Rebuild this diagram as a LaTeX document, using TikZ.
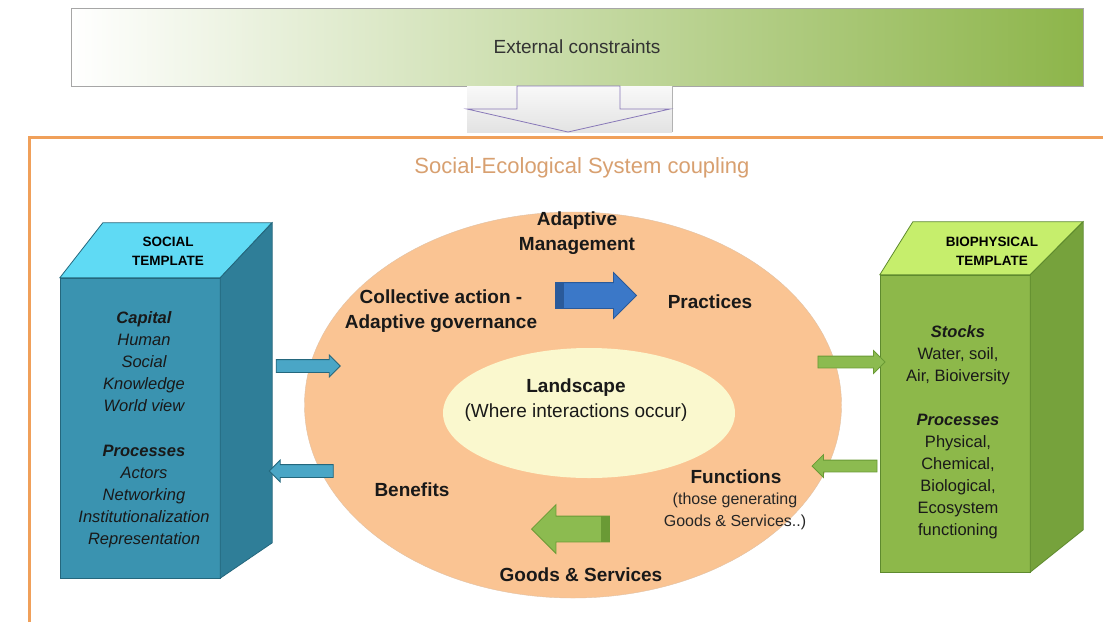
\documentclass[tikz,border=0pt]{standalone}
\usepackage{fontspec}
\setmainfont{Liberation Sans}
\usepackage{tikz}
\usetikzlibrary{shapes.arrows,shapes.geometric}
\definecolor{extgreen}{HTML}{8DB54A}
\definecolor{frameorange}{HTML}{F0A05A}
\definecolor{titlecol}{HTML}{D8A070}
\definecolor{sesfill}{HTML}{FAC493}
\definecolor{landfill}{HTML}{FAF8CE}
\definecolor{socfront}{HTML}{3A93B0}
\definecolor{socside}{HTML}{2F7E98}
\definecolor{soctop}{HTML}{5FDAF4}
\definecolor{socedge}{HTML}{24677D}
\definecolor{biofront}{HTML}{8DB84A}
\definecolor{bioside}{HTML}{76A23C}
\definecolor{biotop}{HTML}{C6EE6C}
\definecolor{bioedge}{HTML}{5E8A2E}
\definecolor{socarr}{HTML}{4AA6C6}
\definecolor{bluearr}{HTML}{3B78C8}
\definecolor{bluedark}{HTML}{2A5A9A}
\definecolor{greenarr}{HTML}{8CBB50}
\definecolor{greendark}{HTML}{6A9A35}
\definecolor{outlinepurple}{HTML}{8878B8}
\tikzstyle{extbox}=[rectangle,draw=gray!70,left color=white,right color=extgreen,minimum width=1012,minimum height=78,font=\fontsize{19}{22}\selectfont,text=black!80]
\tikzstyle{face}=[rectangle,minimum width=160,minimum height=300,inner sep=0pt]
\tikzstyle{toplabel}=[align=center,font=\bfseries\fontsize{13.5}{19}\selectfont]
\tikzstyle{boxtext}=[align=center,font=\fontsize{16.5}{22}\selectfont,text=black!90]
\tikzstyle{inbold}=[align=center,font=\bfseries\fontsize{19}{25}\selectfont,text=black!90]
\tikzstyle{insmall}=[align=center,font=\fontsize{16}{22}\selectfont,text=black!85]
\tikzstyle{blockarrow}=[single arrow,single arrow head indent=0pt,inner xsep=0pt,line width=0.8]
\begin{document}
\begin{tikzpicture}[x=1pt,y=-1pt]
\useasboundingbox (0,0) rectangle (1103,622);
\fill[white] (0,0) rectangle (1103,622);
% external constraints and the arrow below it
\node[extbox] (ext) at (577,47) {External constraints};
\fill[top color=gray!5,bottom color=gray!22] (467,86) rectangle (672,132);
\draw[gray!60] (672,86) -- (672,132);
\draw[outlinepurple,line width=0.8] (517,86) -- (517,109) -- (467,109) -- (568,132)
  -- (670,109) -- (620,109) -- (620,86) -- cycle;
% coupling frame
\draw[frameorange,line width=3] (29,622) -- (29,137) -- (1103,137);
\node[text=titlecol,font=\fontsize{22}{26}\selectfont] (title) at (582,168) {Social-Ecological System coupling};
% the two ellipses
\node[ellipse,fill=sesfill,draw=sesfill!85!black!70,line width=0.4,inner sep=0pt,
  minimum width=537,minimum height=386] (ses) at (573,405) {};
\node[ellipse,fill=landfill,inner sep=0pt,minimum width=292,minimum height=130] (land) at (589,413) {};
\node[inbold] (landtxt) at (576,400) {Landscape\\\mdseries(Where interactions occur)};
\node[inbold] (adapt) at (577,233.5) {Adaptive\\Management};
\node[inbold] (collect) at (441,311.5) {Collective action -\\Adaptive governance};
\node[inbold] (pract) at (710,302) {Practices};
\node[inbold] (benef) at (412,490) {Benefits};
\node[inbold] (funct) at (736,477) {Functions};
\node[insmall] (fsub) at (735,511) {(those generating\\Goods \& Services..)};
\node[inbold] (goods) at (581,575) {Goods \& Services};
% inner arrows
\node[blockarrow,fill=bluearr,draw=bluedark,minimum height=81,inner ysep=12.5,
  single arrow head extend=10] (blue) at (589.5,295.5) {};
\fill[bluedark] (blue.before tail) rectangle ([xshift=9pt]blue.after tail);
\node[blockarrow,fill=greenarr,draw=greendark,minimum height=78,inner ysep=12.5,
  single arrow head extend=11.5,shape border rotate=180] (green) at (577,529) {};
\fill[greendark] (green.before tail) rectangle ([xshift=-9pt]green.after tail);
% social template
\node[face,fill=socfront,draw=socedge] (social) at (140,428) {};
\filldraw[fill=soctop,draw=socedge,line width=0.8] (social.north west) -- ++(43,-55) -- ++(169,0)
  -- (social.north east) -- cycle;
\filldraw[fill=socside,draw=socedge,line width=0.8] (social.north east) -- ++(52,-55) -- ++(0,320)
  -- (social.south east) -- cycle;
\node[toplabel] (soclabel) at (168,251) {SOCIAL\\TEMPLATE};
\node[boxtext] (soctext) at (144,429.5) {\bfseries\itshape Capital\\\itshape Human\\\itshape Social\\
  \itshape Knowledge\\\itshape World view\\[23pt]\bfseries\itshape Processes\\\itshape Actors\\
  \itshape Networking\\\itshape Institutionalization\\\itshape Representation};
% biophysical template
\node[face,minimum width=150,minimum height=297,fill=biofront,draw=bioedge] (bio) at (955,423.5) {};
\filldraw[fill=biotop,draw=bioedge,line width=0.8] (bio.north west) -- ++(33,-53) -- ++(170,0)
  -- (bio.north east) -- cycle;
\filldraw[fill=bioside,draw=bioedge,line width=0.8] (bio.north east) -- ++(53,-53) -- ++(0,308)
  -- (bio.south east) -- cycle;
\node[toplabel] (biolabel) at (992,251) {BIOPHYSICAL\\TEMPLATE};
\node[boxtext] (biotext) at (958,432) {\bfseries\itshape Stocks\\Water, soil,\\Air, Bioiversity\\[22pt]
  \bfseries\itshape Processes\\Physical,\\Chemical,\\Biological,\\Ecosystem\\functioning};
% arrows between templates and system
\node[blockarrow,fill=socarr,draw=socedge,minimum height=64,inner ysep=6,
  single arrow head extend=4.5] (socin) at (305,366) {};
\node[blockarrow,fill=socarr,draw=socedge,minimum height=64,inner ysep=6,
  single arrow head extend=4.5,shape border rotate=180] (socout) at (304.5,471) {};
\node[blockarrow,fill=greenarr,draw=greendark,minimum height=67,inner ysep=5.5,
  single arrow head extend=5.5] (bioin) at (848.5,362) {};
\node[blockarrow,fill=greenarr,draw=greendark,minimum height=65,inner ysep=5.5,
  single arrow head extend=5.5,shape border rotate=180] (bioout) at (847.5,466) {};
\end{tikzpicture}
\end{document}
